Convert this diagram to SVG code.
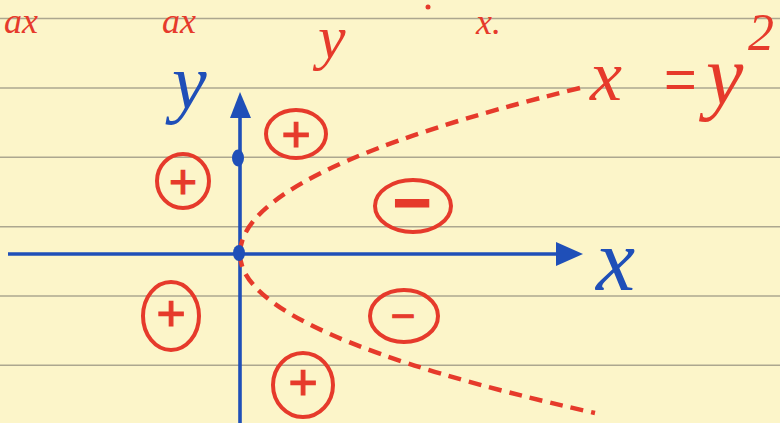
<svg xmlns="http://www.w3.org/2000/svg" width="780" height="423" viewBox="0 0 780 423">
<style>
.rule{stroke:#aca78f;stroke-width:1.6}
.ax{stroke:#1f4fb8;stroke-width:3.6;fill:none}
.blue{fill:#1f4fb8}
.red{fill:#e63a2b}
.ring{fill:none;stroke:#e63a2b;stroke-width:4}
.hand{font-family:"Liberation Serif",serif;font-style:italic}
.sign{font-family:"Liberation Sans",sans-serif;fill:#e63a2b;stroke:#e63a2b;stroke-width:1.2;text-anchor:middle}
.curve{fill:none;stroke:#e63a2b;stroke-width:4.5;stroke-dasharray:13 8}
</style>
<rect width="780" height="423" fill="#fcf5c9"/>
<g id="paper">
<line class="rule" x1="0" y1="18.5" x2="780" y2="18.5"/>
<line class="rule" x1="0" y1="88" x2="780" y2="88"/>
<line class="rule" x1="0" y1="157.3" x2="780" y2="157.3"/>
<line class="rule" x1="0" y1="226.7" x2="780" y2="226.7"/>
<line class="rule" x1="0" y1="296" x2="780" y2="296"/>
<line class="rule" x1="0" y1="365.3" x2="780" y2="365.3"/>
</g>
<g id="top-text" class="hand red" font-size="36">
<text x="4" y="33">ax</text>
<text x="162" y="33">ax</text>
<text x="318" y="58" font-size="62">y</text>
<circle cx="428" cy="7" r="2.5"/>
<text x="476" y="34">x.</text>
</g>
<g id="connectors">
<line class="ax" x1="8" y1="254" x2="558" y2="254"/>
<polygon class="blue" points="556,242 583,254 556,266"/>
<line class="ax" x1="240" y1="423" x2="240" y2="115"/>
<polygon class="blue" points="230,118 240,92 251,118"/>
<path class="curve" d="M580,88 Q240,171 240,254"/>
<path class="curve" d="M240,254 Q240,333.5 595,413"/>
</g>
<g id="origin">
<ellipse class="blue" cx="239" cy="253" rx="6" ry="8"/>
</g>
<g id="y-intercept">
<ellipse class="blue" cx="238" cy="158" rx="6" ry="8.5"/>
</g>
<g id="label-y">
<text class="hand blue" x="172" y="108" font-size="78">y</text>
</g>
<g id="label-x">
<text class="hand blue" x="596" y="290" font-size="88">x</text>
</g>
<g id="label-curve" class="hand red">
<text x="590" y="100" font-size="72">x</text>
<text x="664" y="98" font-size="56" font-style="normal" font-family="Liberation Sans,sans-serif">=</text>
<text x="706" y="104" font-size="84">y</text>
<text x="748" y="50" font-size="52">2</text>
</g>
<g id="sign-q1-top">
<ellipse class="ring" cx="296" cy="134" rx="30" ry="24"/>
<text class="sign" x="296" y="151" font-size="50">+</text>
</g>
<g id="sign-q2-top">
<ellipse class="ring" cx="183" cy="181" rx="26" ry="27"/>
<text class="sign" x="183" y="198" font-size="48">+</text>
</g>
<g id="sign-inside-top">
<ellipse class="ring" cx="413" cy="206" rx="38" ry="26"/>
<text class="sign" x="412" y="225" font-size="66" font-weight="bold">−</text>
</g>
<g id="sign-q3">
<ellipse class="ring" cx="171" cy="316" rx="28" ry="34"/>
<text class="sign" x="171" y="330" font-size="50">+</text>
</g>
<g id="sign-inside-bottom">
<ellipse class="ring" cx="404" cy="316" rx="34" ry="26"/>
<text class="sign" x="403" y="330" font-size="42">−</text>
</g>
<g id="sign-q4">
<ellipse class="ring" cx="303" cy="385" rx="30" ry="32"/>
<text class="sign" x="303" y="399" font-size="50">+</text>
</g>
</svg>
